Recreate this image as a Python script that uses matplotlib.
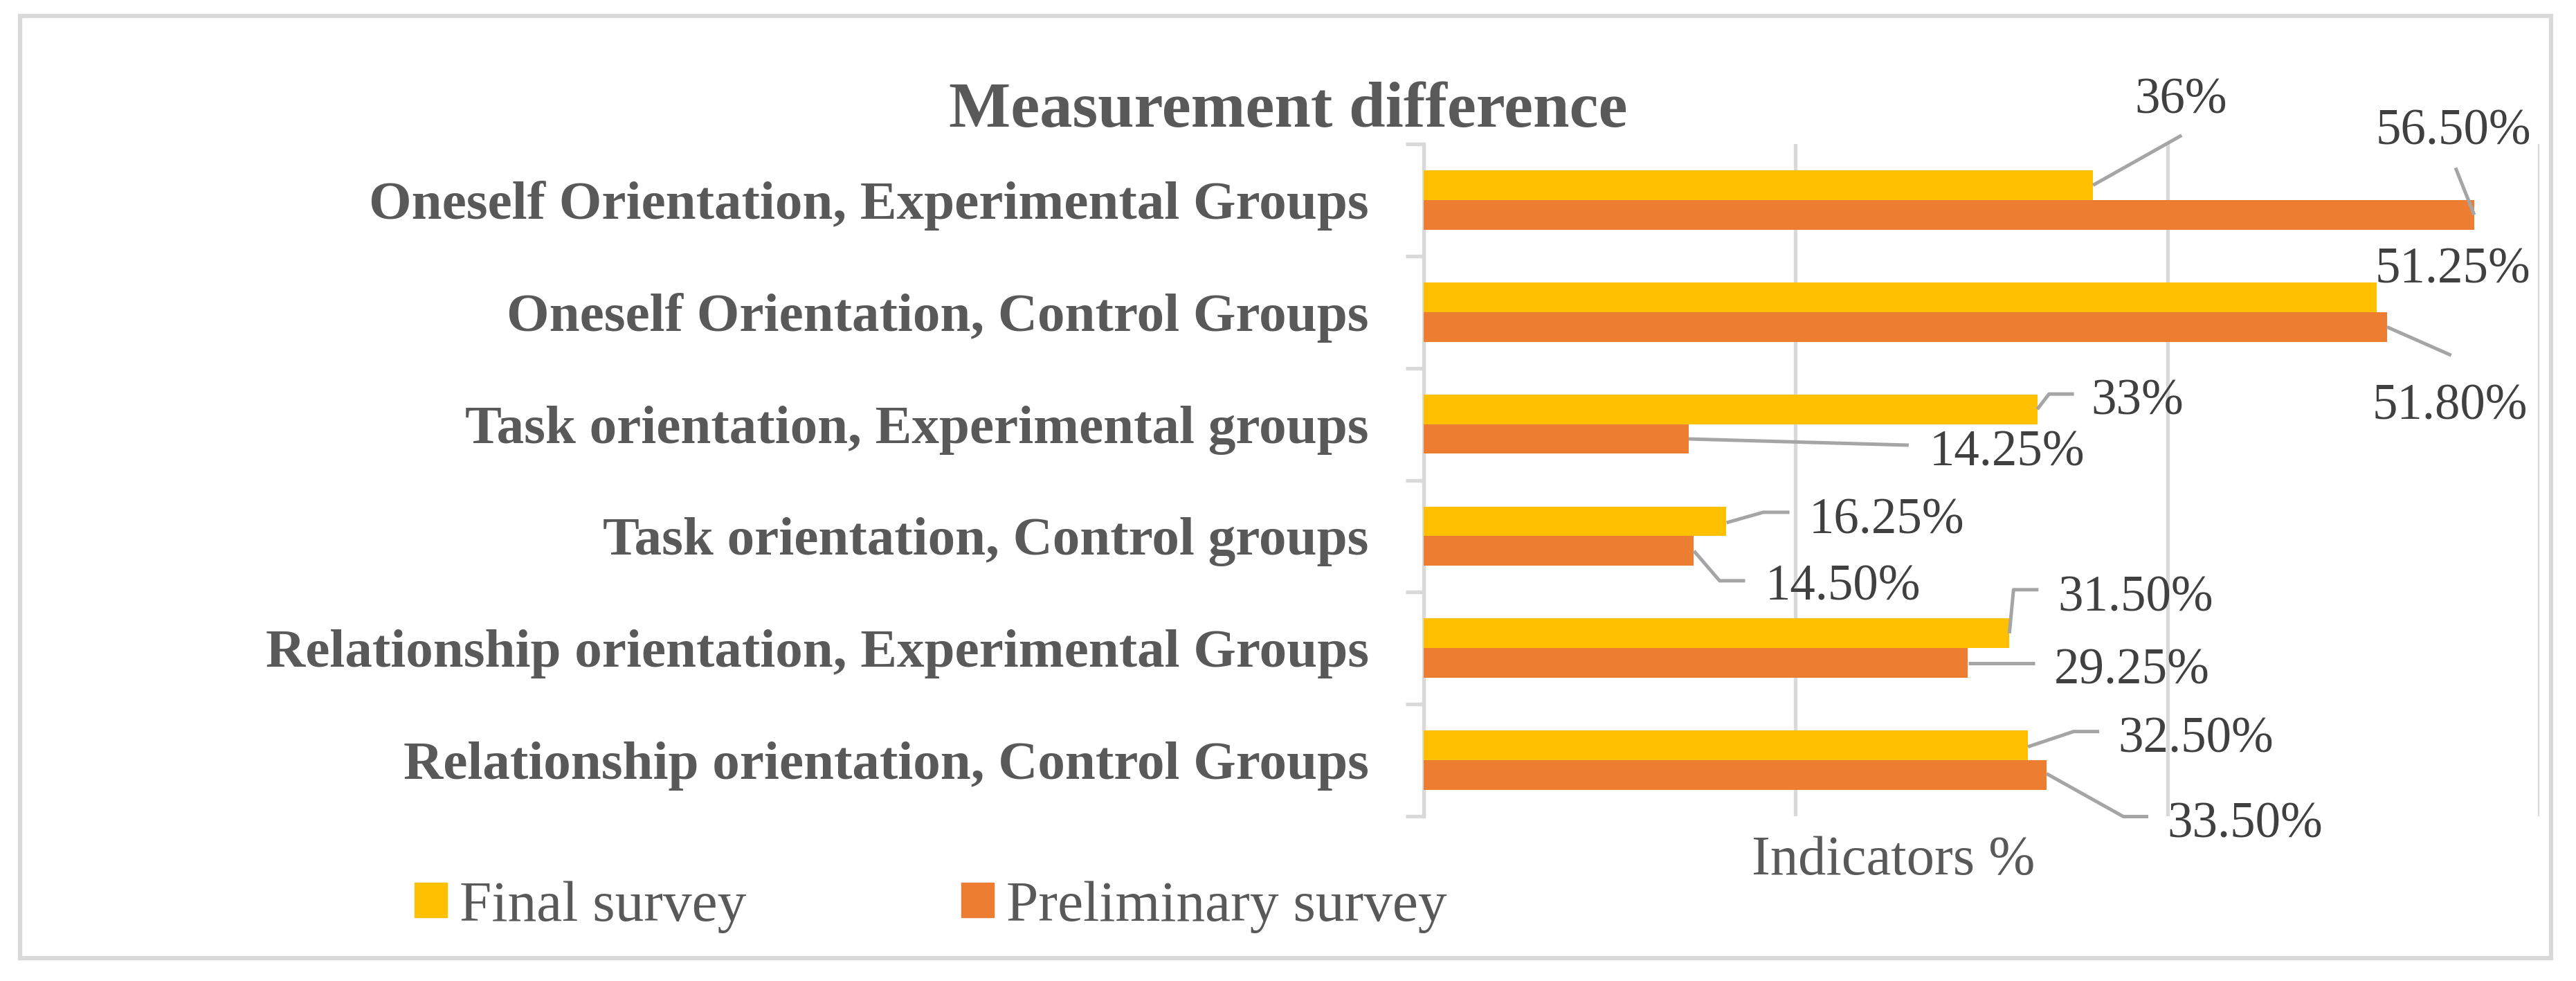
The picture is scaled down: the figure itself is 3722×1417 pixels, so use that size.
import matplotlib

matplotlib.use("Agg")
import matplotlib.pyplot as plt
import numpy as np
from matplotlib.patches import Patch, Rectangle
from matplotlib.transforms import IdentityTransform

# data (top to bottom as drawn)
categories = [
    "Oneself Orientation, Experimental Groups",
    "Oneself Orientation, Control Groups",
    "Task orientation, Experimental groups",
    "Task orientation, Control groups",
    "Relationship orientation, Experimental Groups",
    "Relationship orientation, Control Groups",
]
final_survey = [36, 51.25, 33, 16.25, 31.5, 32.5]
preliminary_survey = [56.5, 51.8, 14.25, 14.5, 29.25, 33.5]
final_labels = ["36%", "51.25%", "33%", "16.25%", "31.50%", "32.50%"]
prelim_labels = ["56.50%", "51.80%", "14.25%", "14.50%", "29.25%", "33.50%"]
series_names = ["Final survey", "Preliminary survey"]

# label placement: text offset (px, y up) from bar end, leader path offsets
final_text_off = [(127, 104), (110, 21), (145, -7), (232, -18), (182, 32), (243, -10)]
final_leader = [
    [(0, 0), (128, 72)],
    None,
    [(0, 0), (17, 22), (53, 22)],
    [(1, -2), (54, 13), (92, 13)],
    [(0, 0), (6, 63), (42, 63)],
    [(0, -2), (66, 20), (103, 20)],
]
prelim_text_off = [(-30, 102), (91, -133), (460, -38), (216, -71), (237, -30), (287, -90)]
prelim_leader = [
    [(0, 0), (-27, 68)],
    [(0, 0), (93, -41)],
    [(0, 0), (318, -9)],
    [(1, 0), (38, -43), (75, -43)],
    [(1, 0), (97, 0)],
    [(0, 2), (111, -60), (147, -60)],
]

YELLOW, ORANGE = "#FFC000", "#ED7D31"
GRID = "#D9D9D9"
TXT, LBL = "#595959", "#404040"
LEADER = "#A5A5A5"
W, H = 3723, 1417
SERIF = "Liberation Serif"
LINE_W = 3.8

plt.rcParams["font.family"] = [SERIF, "DejaVu Serif"]

fig = plt.figure(figsize=(W / 100, H / 100), dpi=100)
ax = fig.add_axes([2057 / W, 1 - 1179 / H, (3669 - 2057) / W, (1179 - 208) / H])

y = np.arange(len(categories))
bh = 0.265
ax.barh(y - bh / 2, final_survey, height=bh, color=YELLOW, zorder=3)
ax.barh(y + bh / 2, preliminary_survey, height=bh, color=ORANGE, zorder=3)

ax.set_xlim(0, 60)
ax.set_ylim(len(categories) - 0.5, -0.5)
ax.set_xticks([0, 20, 40, 60])
ax.set_xticklabels([])
ax.tick_params(axis="x", length=0)
ax.grid(axis="x", color=GRID, linewidth=LINE_W)
ax.set_axisbelow(True)

ax.set_yticks(y)
ax.set_yticklabels(categories, fontsize=57, fontweight="bold", color=TXT)
ax.set_yticks(np.arange(-0.5, len(categories)), minor=True)
ax.tick_params(axis="y", which="major", length=0, pad=57)
ax.tick_params(axis="y", which="minor", length=18.7, width=LINE_W, color=GRID)

for s in ["top", "right", "bottom"]:
    ax.spines[s].set_visible(False)
ax.spines["left"].set_color(GRID)
ax.spines["left"].set_linewidth(LINE_W)

ax.set_xlabel("Indicators %", fontsize=58, color=TXT)
ax.xaxis.set_label_coords((2736 - 2057) / 1612, -(1263 - 1179) / 971)
ax.xaxis.label.set_va("baseline")


def label_bars(values, ypos, texts, offs, leaders):
    for v, yy, t, off, path in zip(values, ypos, texts, offs, leaders):
        ax.annotate(t, xy=(v, yy), xytext=off, textcoords="offset pixels",
                    ha="center", va="baseline", fontsize=52.5, color=LBL, zorder=5)
        if path:
            bx, by = ax.transData.transform((v, yy))
            xs = [bx + p[0] for p in path]
            ys = [by + p[1] for p in path]
            ax.plot(xs, ys, color=LEADER, linewidth=3.6, transform=IdentityTransform(),
                    clip_on=False, zorder=4, solid_capstyle="butt")


label_bars(final_survey, y - bh / 2, final_labels, final_text_off, final_leader)
label_bars(preliminary_survey, y + bh / 2, prelim_labels, prelim_text_off, prelim_leader)

fig.text(0.5, 1 - 183 / H, "Measurement difference", ha="center", va="baseline",
         fontsize=68, fontweight="bold", color=TXT)

handles = [Patch(color=YELLOW), Patch(color=ORANGE)]
fig.legend(handles, series_names, loc="center left", bbox_to_anchor=(599 / W, 1 - 1310 / H),
           ncol=2, frameon=False, fontsize=60, labelcolor=TXT, borderpad=0, borderaxespad=0,
           handlelength=0.564, handleheight=0.552, handletextpad=0.22, columnspacing=3.72)

fig.patches.append(Rectangle((29 / W, 1 - 1384 / H), (3686 - 29) / W, (1384 - 23) / H,
                             transform=fig.transFigure, fill=False, edgecolor=GRID,
                             linewidth=4.5))

fig.savefig("out.png", dpi=100)
